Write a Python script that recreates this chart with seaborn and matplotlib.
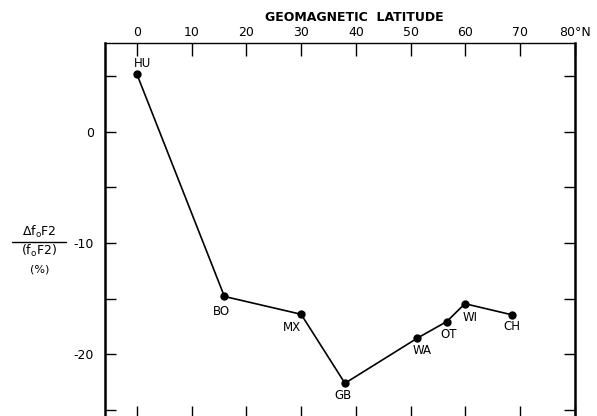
import matplotlib
matplotlib.use("Agg")
import matplotlib.pyplot as plt
import seaborn as sns
import pandas as pd

# Stations, geomagnetic latitude (deg N) and relative change of foF2 (%)
stations = ["HU", "BO", "MX", "GB", "WA", "OT", "WI", "CH"]
latitude = [0.0, 16.0, 30.0, 38.0, 51.2, 56.6, 59.9, 68.5]
delta_fof2 = [5.2, -14.8, -16.4, -22.6, -18.55, -17.05, -15.45, -16.45]

x_ticks = [0, 10, 20, 30, 40, 50, 60, 70, 80]
x_tick_labels = ["0", "10", "20", "30", "40", "50", "60", "70", "80°N"]
y_major = [0, -10, -20]
y_minor = [5, -5, -15, -25]

df = pd.DataFrame({"station": stations, "lat": latitude, "d": delta_fof2})

sns.set_style("ticks")
plt.rcParams["font.family"] = ["DejaVu Sans"]
plt.rcParams["text.color"] = "black"
plt.rcParams["axes.labelcolor"] = "black"

fig = plt.figure(figsize=(5.97, 4.16), dpi=100)
ax = fig.add_axes([105 / 597, -2 / 416, 470 / 597, (416 - 42.7 + 2) / 416])

sns.lineplot(data=df, x="lat", y="d", color="black", linewidth=1.2,
             marker="o", markersize=6, markeredgewidth=0, ax=ax, sort=False)

ax.set_xlim(-5.8, 80)
ax.set_ylim(-25.72, 8)

# latitude scale along the top
ax.xaxis.tick_top()
ax.xaxis.set_label_position("top")
ax.set_xticks(x_ticks)
ax.set_xticklabels(x_tick_labels, fontsize=9)
ax.tick_params(axis="x", which="both", direction="in", length=9, width=1,
               top=True, bottom=True, pad=2.5, colors="black")
ax.set_xlabel("GEOMAGNETIC  LATITUDE", fontsize=9, fontweight="bold",
              labelpad=3.5, color="black")
ax.xaxis.label.set_position((0.53, 1))

ax.set_yticks(y_major)
ax.set_yticklabels(["0", "-10", "-20"], fontsize=9)
ax.set_yticks(y_minor, minor=True)
ax.tick_params(axis="y", which="both", direction="in", length=8, width=1,
               left=True, right=True, pad=8, colors="black")
ax.set_ylabel("")

for side, lw in [("left", 1.8), ("right", 1.8), ("top", 1.0), ("bottom", 1.0)]:
    ax.spines[side].set_visible(True)
    ax.spines[side].set_linewidth(lw)
    ax.spines[side].set_color("black")

# station labels next to each point (offsets in points)
offsets = {
    "HU": (3.8, 7.7),
    "BO": (-2.0, -11.0),
    "MX": (-6.7, -9.4),
    "GB": (-1.2, -8.9),
    "WA": (3.8, -8.9),
    "OT": (1.4, -9.1),
    "WI": (4.1, -9.6),
    "CH": (0.0, -8.4),
}
for name, x, y in zip(stations, latitude, delta_fof2):
    dx, dy = offsets[name]
    ax.annotate(name, (x, y), xytext=(dx, dy), textcoords="offset points",
                ha="center", va="center", fontsize=8.5, color="black")

# fractional axis label on the left
fig.text(39 / 597, 1 - 232 / 416, r"$\Delta$f$_{\mathsf{o}}$F2", ha="center",
         va="center", fontsize=9)
fig.add_artist(plt.Line2D([12 / 597, 66 / 597], [1 - 241.5 / 416] * 2,
                          color="black", linewidth=1.0))
fig.text(39 / 597, 1 - 251 / 416, r"(f$_{\mathsf{o}}$F2)", ha="center",
         va="center", fontsize=9)
fig.text(40 / 597, 1 - 270 / 416, "(%)", ha="center", va="center", fontsize=8)

fig.savefig("out.png", dpi=100)
